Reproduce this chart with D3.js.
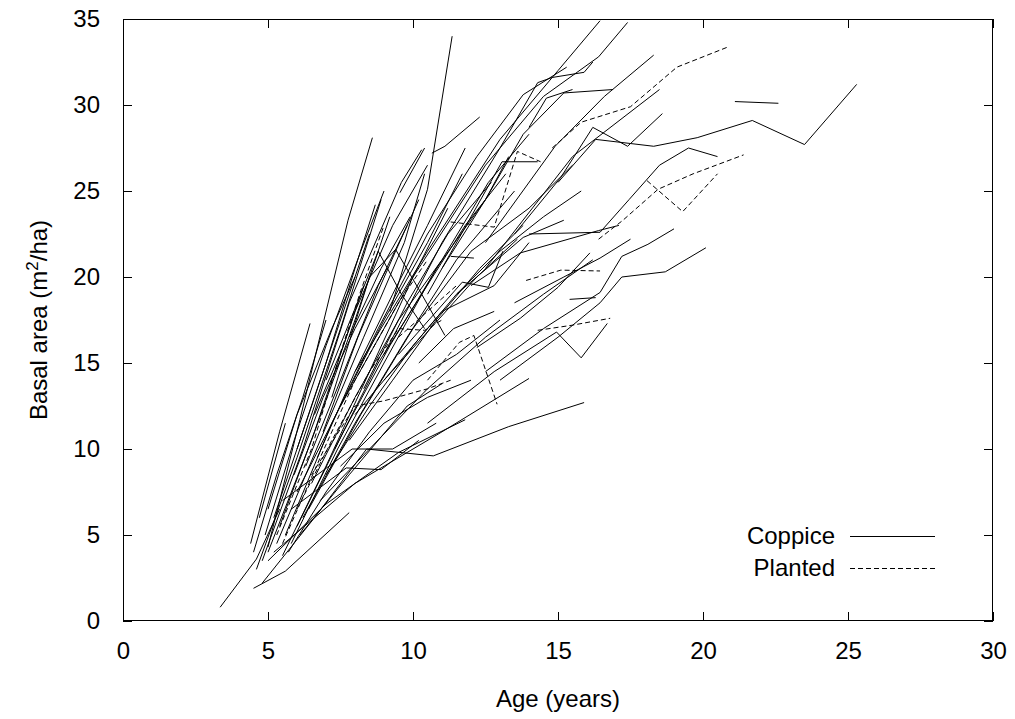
<!DOCTYPE html>
<html><head><meta charset="utf-8">
<script src="https://cdn.jsdelivr.net/npm/d3@7"></script>
<style>html,body{margin:0;padding:0;background:#fff;}svg{display:block;font-family:"Liberation Sans",Arial,sans-serif;}</style>
</head><body><svg id="c" width="1015" height="719"></svg>
<script>
const xTicks = [0,5,10,15,20,25,30];
const yTicks = [0,5,10,15,20,25,30,35];
const legendLabels = ["Coppice","Planted"];

// Coppice stands (solid lines): [age, basal area]
const coppiceSeries = [
  [[3.35,0.8],[4.6,3.6],[5.4,6.5]],
  [[4.5,1.9],[5.6,2.9],[7.8,6.3]],
  [[4.4,4.5],[5.4,11.0],[6.45,17.3]],
  [[5.0,4.3],[6.1,11.7],[7.76,23.3],[8.6,28.1]],
  [[4.8,2.2],[6.6,6.0],[8.4,10.0],[10.7,9.6],[13.3,11.3],[15.9,12.7]],
  [[5.0,3.5],[7.0,6.8],[9.5,9.8],[11.8,11.7]],
  [[5.2,4.0],[8.0,8.0],[11.0,11.0],[14.0,14.1]],
  [[9.2,18.0],[10.5,25.1],[11.35,34.0]],
  [[9.0,15.5],[11.0,22.0],[13.0,27.5],[14.3,31.3],[14.8,31.6],[15.9,31.9],[16.2,32.5]],
  [[7.5,12.5],[10.0,20.0],[12.5,26.5],[14.5,30.5],[16.4,32.8],[17.4,34.8]],
  [[8.0,14.5],[10.5,21.5],[13.0,28.0],[15.0,32.0],[16.45,34.9]],
  [[11.0,20.5],[12.5,24.5],[13.8,28.3],[15.2,30.7],[16.9,30.9]],
  [[12.5,22.0],[14.9,27.6],[16.6,30.5],[18.3,32.9]],
  [[12.5,20.5],[15.5,27.0],[18.5,30.9]],
  [[14.0,22.5],[16.45,22.6],[17.45,24.5],[18.5,26.5],[19.5,27.5],[20.5,27.0]],
  [[15.0,25.5],[16.3,28.0],[18.3,27.6],[19.8,28.1],[21.7,29.1],[23.5,27.7],[25.3,31.2]],
  [[21.1,30.2],[22.6,30.1]],
  [[12.5,14.5],[14.5,17.0],[16.45,19.1],[17.2,21.2],[18.1,21.9],[19.0,22.8]],
  [[13.0,14.0],[15.0,16.5],[16.45,18.5],[17.2,20.0],[18.7,20.3],[20.1,21.7]],
  [[13.5,18.5],[15.2,20.0],[16.45,21.1],[17.5,22.2]],
  [[10.5,11.5],[12.8,14.5],[14.95,16.8],[15.8,15.3],[16.7,17.3]],
  [[15.4,18.7],[16.3,18.8]],
  [[12.2,15.9],[13.7,17.6],[15.0,19.4],[16.1,21.4]],
  [[11.5,19.0],[13.8,22.3],[15.2,23.3]],
  [[12.0,19.5],[13.7,21.4],[16.4,22.7],[17.1,23.0]],
  [[13.5,22.5],[15.1,25.8],[16.2,28.7],[17.4,27.6],[18.6,29.5]],
  [[14.0,28.7],[14.6,30.4],[15.5,30.9]],
  [[10.65,27.2],[11.1,27.6],[12.3,29.3]],
  [[9.55,24.9],[10.4,27.5]],
  [[10.5,19.0],[12.0,23.5],[13.07,26.7],[14.3,26.7]],
  [[4.6,3.0],[6.0,9.5],[7.5,17.0],[8.9,24.5]],
  [[4.8,3.5],[6.2,10.0],[7.8,18.5],[9.6,25.5],[10.3,27.4]],
  [[5.0,4.0],[6.5,10.5],[8.0,17.5],[9.2,23.5]],
  [[5.3,4.5],[6.8,10.5],[8.3,16.5],[9.7,22.0],[10.4,26.0]],
  [[5.5,3.8],[7.0,9.0],[8.5,14.5],[10.0,20.0],[11.2,24.0]],
  [[5.6,5.0],[7.2,11.5],[8.8,17.0],[10.5,22.5],[12.2,27.0],[13.8,30.6],[15.3,32.2]],
  [[5.8,4.5],[7.4,10.0],[9.0,15.0],[10.8,20.5],[12.5,24.5],[13.3,27.0]],
  [[6.0,5.5],[7.6,11.0],[9.2,16.0],[11.0,21.0],[12.6,25.5],[14.0,28.3]],
  [[6.2,6.0],[8.0,11.5],[9.8,16.5],[11.5,21.0],[13.5,25.0]],
  [[6.4,6.5],[8.2,12.0],[10.0,17.0],[12.0,21.5],[14.0,24.0],[15.5,26.5]],
  [[5.4,5.5],[6.6,11.0],[8.0,18.0],[9.3,23.0],[10.5,26.5]],
  [[4.9,5.0],[5.9,10.5],[7.0,16.0],[8.2,21.5],[9.0,25.0]],
  [[5.2,6.0],[6.3,11.5],[7.5,17.5],[8.5,22.5]],
  [[4.7,6.0],[5.6,11.5]],
  [[5.0,6.5],[6.0,12.0],[7.2,17.0],[8.0,20.0]],
  [[6.0,7.5],[7.5,12.5],[9.0,17.5],[10.5,22.0],[11.7,26.0]],
  [[6.5,8.0],[8.0,13.0],[9.5,17.5],[11.0,21.0]],
  [[7.0,8.5],[8.5,12.5],[10.0,16.0],[11.5,19.0],[13.0,21.5],[14.5,23.5],[15.8,25.0]],
  [[6.8,7.0],[8.5,10.0],[10.5,13.5],[12.5,16.5],[14.5,19.0],[16.2,21.0]],
  [[5.5,7.0],[7.9,10.0],[9.3,10.0],[10.8,11.5]],
  [[5.8,6.5],[7.7,8.9],[8.9,8.8],[10.2,10.5]],
  [[7.0,14.0],[8.8,21.5],[9.6,19.0],[10.4,17.0]],
  [[7.2,13.0],[8.5,20.0],[9.4,21.6],[10.3,19.0],[11.1,16.6]],
  [[9.5,15.5],[11.7,19.7],[12.6,19.4],[13.1,21.5]],
  [[11.3,21.2],[12.1,21.1]],
  [[6.0,10.0],[7.0,15.0],[8.0,20.5],[8.7,24.2]],
  [[6.3,9.0],[7.5,14.0],[8.8,19.5],[9.8,23.0]],
  [[6.7,9.5],[8.0,14.5],[9.3,19.0],[10.5,23.0],[11.8,27.5]],
  [[7.3,10.0],[8.8,15.0],[10.3,19.0],[11.8,23.0],[13.2,26.0]],
  [[7.8,10.5],[9.3,14.0],[10.8,17.5],[12.3,20.5],[13.8,23.0]],
  [[8.0,12.0],[9.5,15.0],[11.0,18.0],[12.8,19.5],[14.0,22.0]],
  [[5.7,4.0],[7.0,7.5],[8.5,11.0],[10.0,14.0],[11.5,15.5],[13.0,17.5]],
  [[6.1,5.0],[7.8,8.5],[9.8,12.5],[11.0,13.8]],
  [[7.5,9.0],[9.0,11.5],[10.5,13.0],[12.0,14.0]],
  [[4.5,4.0],[5.3,8.5],[6.2,13.0],[7.0,17.5]],
  [[6.9,11.0],[8.1,16.5],[9.4,21.5],[10.2,24.5]],
  [[7.8,16.5],[8.9,20.5],[9.9,23.5]],
  [[8.3,13.5],[9.8,18.5],[11.2,22.5],[12.7,25.5]],
  [[9.0,14.0],[10.6,17.0],[12.2,20.0],[13.6,22.2]],
  [[10.2,15.0],[11.4,17.0],[12.8,18.0]],
  [[5.9,8.5],[6.9,13.0],[8.0,17.0],[9.1,20.5]],
  [[6.6,12.0],[7.6,16.0],[8.3,19.5]]
];

// Planted stands (dashed lines)
const plantedSeries = [
  [[5.3,5.0],[6.5,10.0],[7.5,15.6],[8.2,19.2],[9.0,23.0]],
  [[11.3,23.2],[12.8,22.9],[13.6,27.3],[14.4,26.7]],
  [[14.8,27.5],[15.8,29.0],[17.5,29.9],[19.1,32.2],[20.9,33.4]],
  [[16.4,22.2],[17.24,23.3],[18.45,25.1],[19.66,26.0],[21.4,27.1]],
  [[18.07,25.6],[19.3,23.8],[20.5,26.0]],
  [[13.9,19.8],[15.1,20.4],[16.45,20.35]],
  [[14.3,16.9],[15.5,17.2],[16.8,17.6]],
  [[10.5,14.0],[11.6,16.2],[12.1,16.6],[12.9,12.6]],
  [[6.0,6.5],[7.2,10.5],[8.5,14.5],[9.5,17.0],[10.4,16.9],[11.0,17.5]],
  [[6.5,8.5],[8.0,12.5],[9.0,12.8],[10.5,13.5],[11.3,14.0]],
  [[5.5,4.5],[6.8,9.5],[8.0,14.0],[9.5,18.5],[10.5,21.0]],
  [[9.5,16.5],[10.5,18.0],[11.5,19.5]]
];

const svg = d3.select("#c");
const L = 123, R = 993, T = 19, B = 621;
const x = d3.scaleLinear().domain([0,30]).range([L,R]);
const y = d3.scaleLinear().domain([0,35]).range([B,T]);
const line = d3.line().x(d => x(d[0])).y(d => y(d[1]));

svg.append("rect").attr("width",1015).attr("height",719).attr("fill","#fff");

svg.append("clipPath").attr("id","pc").append("rect")
  .attr("x",L).attr("y",T).attr("width",R-L).attr("height",B-T);
const plot = svg.append("g").attr("clip-path","url(#pc)");

plot.selectAll("path.cop").data(coppiceSeries).join("path").attr("class","cop")
  .attr("d",line).attr("fill","none").attr("stroke","#000").attr("stroke-width",1);
plot.selectAll("path.pla").data(plantedSeries).join("path").attr("class","pla")
  .attr("d",line).attr("fill","none").attr("stroke","#000").attr("stroke-width",1)
  .attr("stroke-dasharray","5,3");

const tickLen = 9;
const fs = 24;
const axB = d3.axisBottom(x).tickValues(xTicks).tickSizeInner(-tickLen).tickSizeOuter(0).tickPadding(tickLen+12);
const axT = d3.axisTop(x).tickValues(xTicks).tickSizeInner(-tickLen).tickSizeOuter(0).tickFormat("");
const axLft = d3.axisLeft(y).tickValues(yTicks).tickSizeInner(-tickLen).tickSizeOuter(0).tickPadding(tickLen+14);
const axRt = d3.axisRight(y).tickValues(yTicks).tickSizeInner(-tickLen).tickSizeOuter(0).tickFormat("");

function style(g){
  g.select(".domain").remove();
  g.selectAll("line").attr("stroke","#000");
  g.selectAll("text").attr("font-size",fs).attr("fill","#000").attr("font-family","Liberation Sans, Arial, sans-serif");
}
svg.append("g").attr("transform",`translate(0,${B})`).call(axB).call(style);
svg.append("g").attr("transform",`translate(0,${T})`).call(axT).call(style);
svg.append("g").attr("transform",`translate(${L},0)`).call(axLft).call(style);
svg.append("g").attr("transform",`translate(${R},0)`).call(axRt).call(style);

svg.append("rect").attr("x",L+0.5).attr("y",T+0.5).attr("width",R-L-1).attr("height",B-T-1)
  .attr("fill","none").attr("stroke","#000").attr("stroke-width",1);

svg.append("text").attr("x",(L+R)/2).attr("y",707).attr("text-anchor","middle")
  .attr("font-size",fs).text("Age (years)");
const yt = svg.append("text").attr("transform",`translate(47,${(T+B)/2}) rotate(-90)`)
  .attr("text-anchor","middle").attr("font-size",fs);
yt.append("tspan").text("Basal area (m");
yt.append("tspan").attr("font-size",17).attr("dy",-9).text("2");
yt.append("tspan").attr("dy",9).text("/ha)");

const leg = [{label:legendLabels[0], dash:null, yy:536},{label:legendLabels[1], dash:"5,3", yy:568}];
leg.forEach(d => {
  svg.append("text").attr("x",835).attr("y",d.yy+8).attr("text-anchor","end").attr("font-size",fs).text(d.label);
  svg.append("line").attr("x1",850).attr("x2",935).attr("y1",d.yy+0.5).attr("y2",d.yy+0.5)
    .attr("stroke","#000").attr("stroke-width",1).attr("stroke-dasharray",d.dash);
});
</script></body></html>
